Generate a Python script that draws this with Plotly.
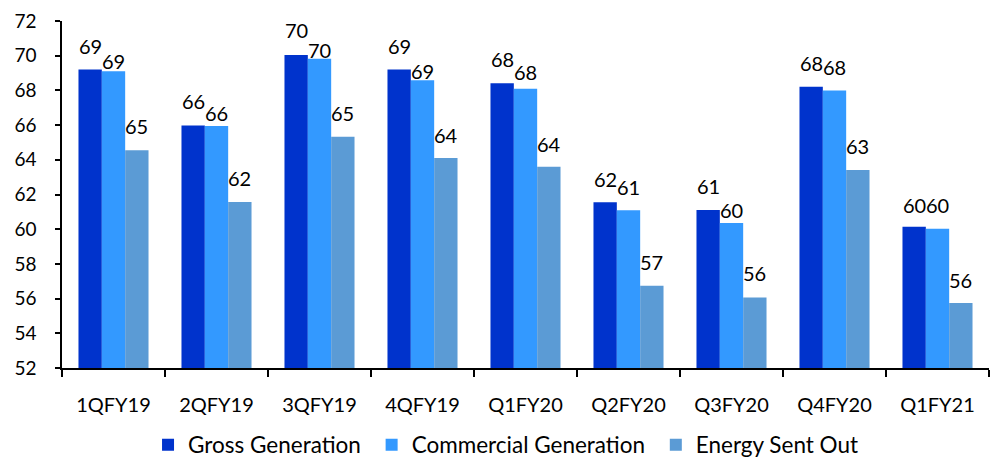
import plotly.graph_objects as go

quarters = ["1QFY19", "2QFY19", "3QFY19", "4QFY19", "Q1FY20",
            "Q2FY20", "Q3FY20", "Q4FY20", "Q1FY21"]
gross_generation = [69.2, 65.97, 70.04, 69.2, 68.41, 61.55, 61.1, 68.21, 60.14]
commercial_generation = [69.1, 65.95, 69.83, 68.58, 68.1, 61.09, 60.36, 68.0, 60.03]
energy_sent_out = [64.55, 61.57, 65.33, 64.1, 63.6, 56.74, 56.07, 63.41, 55.75]

series_names = ["Gross Generation", "Commercial Generation", "Energy Sent Out"]
series_values = [gross_generation, commercial_generation, energy_sent_out]
series_colors = ["#0033CC", "#3399FF", "#5B9BD5"]

# Gap in px between a bar's top and its value label (labels nudged to avoid overlaps)
label_gap = [
    [16, 17, 17, 16, 16, 15, 16, 16, 14],
    [2, 5, 1, 1, 9, 15, 5, 15, 16],
    [16, 16, 16, 15, 15, 16, 16, 16, 15],
]

FONT = "Lato, Carlito, 'Open Sans', sans-serif"
W, H = 1004, 459
M_L, M_R, M_T, M_B = 62, 15, 21, 91
BARGAP = 0.32

fig = go.Figure()
for i, (name, values, color) in enumerate(zip(series_names, series_values, series_colors)):
    # a little trailing space widens the gap to the following legend entry
    legend_name = name + ("\u00a0" if i < len(series_names) - 1 else "")
    fig.add_trace(go.Bar(
        name=legend_name,
        x=quarters,
        y=values,
        marker=dict(color=color, line=dict(width=0)),
        hovertemplate=name + ": %{y}<extra></extra>",
    ))

# value labels above each bar
plot_w = W - M_L - M_R
bar_w = plot_w / len(quarters) * (1 - BARGAP) / len(series_names)
for i, values in enumerate(series_values):
    dx = (i - (len(series_names) - 1) / 2) * bar_w
    for j, (q, v) in enumerate(zip(quarters, values)):
        fig.add_annotation(
            x=q, y=v, xref="x", yref="y",
            text=f"{round(v)}",
            showarrow=False,
            xanchor="center", yanchor="bottom",
            xshift=dx, yshift=label_gap[i][j] - 6,
            font=dict(size=20, color="#000000", family=FONT),
        )

fig.update_layout(
    width=W,
    height=H,
    barmode="group",
    bargap=BARGAP,
    bargroupgap=0,
    plot_bgcolor="white",
    paper_bgcolor="white",
    margin=dict(l=M_L, r=M_R, t=M_T, b=M_B, autoexpand=False),
    font=dict(family=FONT, size=19, color="#000000"),
    legend=dict(
        orientation="h",
        x=0.479, xanchor="center",
        y=-0.222, yanchor="middle",
        font=dict(size=22.5, family=FONT),
        traceorder="normal",
    ),
    showlegend=True,
)

fig.update_xaxes(
    type="category",
    showline=True, linecolor="#000000", linewidth=1.5,
    ticks="outside", tickson="boundaries", ticklen=7,
    tickcolor="#000000", tickwidth=1.5,
    ticklabelstandoff=18,
    showgrid=False, zeroline=False,
    automargin=False,
    tickfont=dict(size=20, family=FONT),
)
fig.update_yaxes(
    range=[52, 72], dtick=2, tick0=52,
    showline=True, linecolor="#000000", linewidth=1.5,
    ticks="outside", ticklen=5, tickcolor="#000000", tickwidth=1.5,
    ticklabelstandoff=15,
    showgrid=False, zeroline=False,
    automargin=False,
    tickfont=dict(size=19, family=FONT),
)

fig.write_html("out.html")
